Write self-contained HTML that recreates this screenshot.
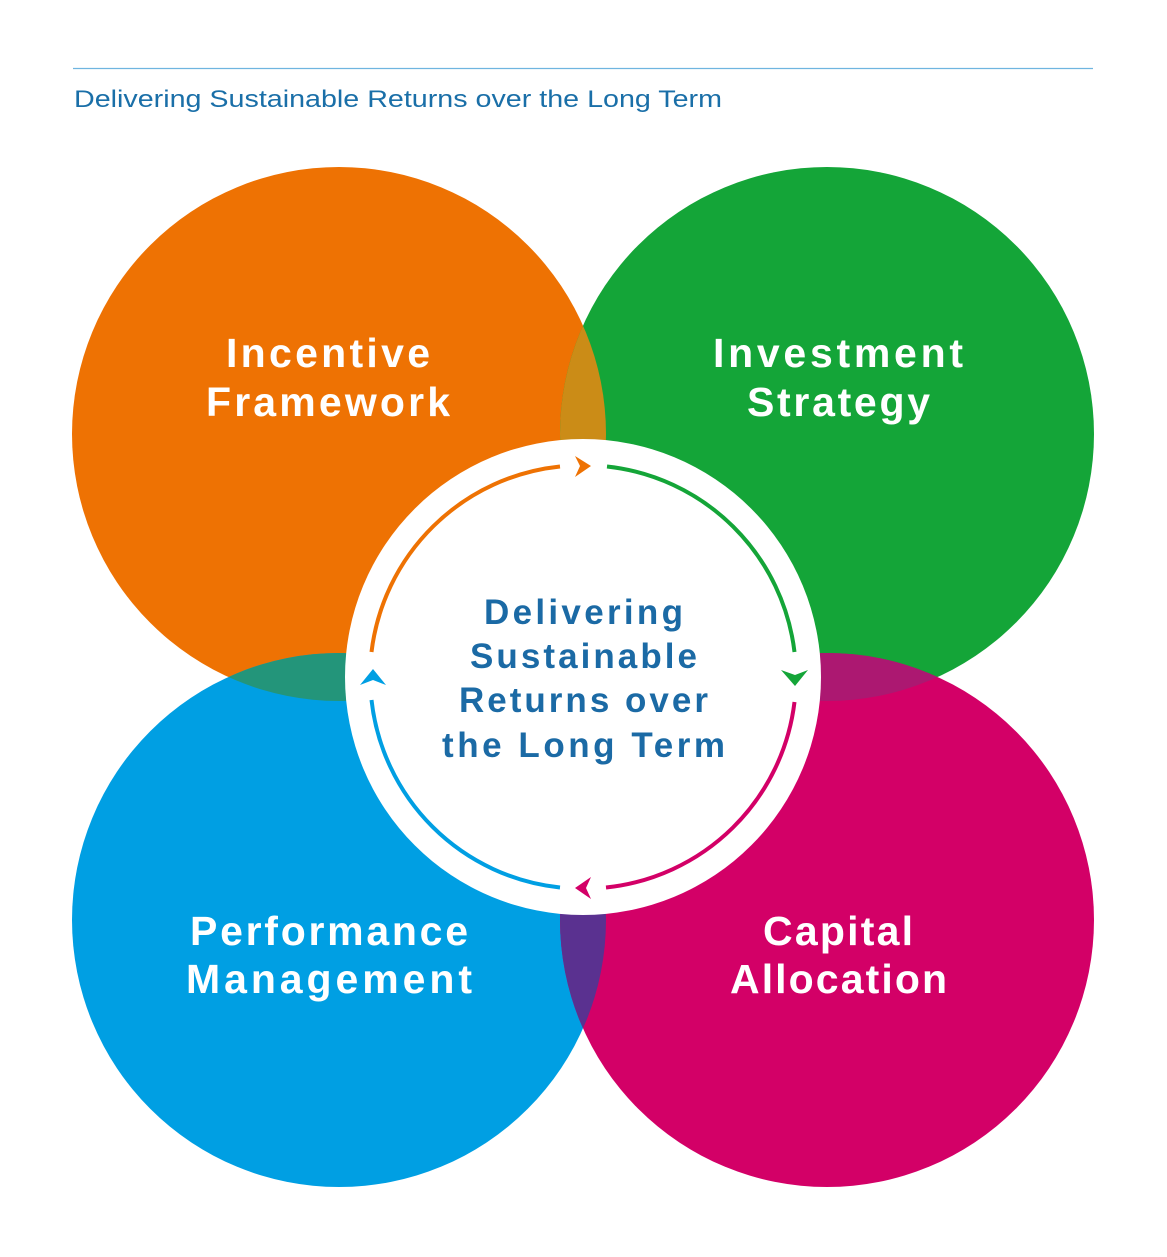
<!DOCTYPE html>
<html><head><meta charset="utf-8"><style>
html,body{margin:0;padding:0;background:#fff;}
svg{display:block;}
text{font-family:"Liberation Sans","DejaVu Sans",sans-serif;}
</style></head><body>
<svg width="1167" height="1257" viewBox="0 0 1167 1257">
<defs>
<clipPath id="cO"><circle cx="339" cy="434" r="267"/></clipPath>
<clipPath id="cG"><circle cx="827" cy="434" r="267"/></clipPath>
<clipPath id="cB"><circle cx="339" cy="920" r="267"/></clipPath>
<clipPath id="cP"><circle cx="827" cy="920" r="267"/></clipPath>
</defs>
<line x1="73" y1="68.5" x2="1093" y2="68.5" stroke="#6fb5e0" stroke-width="1.2"/>
<text x="74" y="107" font-size="24" fill="#1a6fa8" textLength="648" lengthAdjust="spacingAndGlyphs">Delivering Sustainable Returns over the Long Term</text>

<circle cx="339" cy="434" r="267" fill="#ee7203"/>
<circle cx="827" cy="434" r="267" fill="#14a538"/>
<circle cx="339" cy="920" r="267" fill="#009fe3"/>
<circle cx="827" cy="920" r="267" fill="#d30067"/>
<g clip-path="url(#cO)"><circle cx="827" cy="434" r="267" fill="#cb8c17"/></g>
<g clip-path="url(#cO)"><circle cx="339" cy="920" r="267" fill="#23957a"/></g>
<g clip-path="url(#cG)"><circle cx="827" cy="920" r="267" fill="#ac1871"/></g>
<g clip-path="url(#cB)"><circle cx="827" cy="920" r="267" fill="#5a3190"/></g>

<circle cx="583" cy="677" r="238" fill="#fff"/>
<g fill="none" stroke-width="4">
<path d="M371.5,652 A212,212 0 0 1 560,466.5" stroke="#ee7203"/>
<path d="M607,466.5 A212,212 0 0 1 794.5,652" stroke="#14a538"/>
<path d="M794.5,702 A212,212 0 0 1 606,887.5" stroke="#d30067"/>
<path d="M560,887.5 A212,212 0 0 1 371.5,700" stroke="#009fe3"/>
</g>
<path d="M591,466 L575,456 L580,466 L575,477 Z" fill="#ee7203"/>
<path d="M795,686 L781,670 L795,675 L808,670 Z" fill="#14a538"/>
<path d="M575,888 L591,877 L586,888 L591,899 Z" fill="#d30067"/>
<path d="M373,669 L360,685 L373,680 L386,685 Z" fill="#009fe3"/>

<g font-weight="bold" fill="#fff" font-size="41" lengthAdjust="spacingAndGlyphs">
<text x="226" y="367" textLength="204">Incentive</text>
<text x="206" y="416" textLength="244">Framework</text>
<text x="713" y="367" textLength="250">Investment</text>
<text x="747" y="416" textLength="183">Strategy</text>
<text x="190" y="945" textLength="278">Performance</text>
<text x="186" y="993" textLength="286">Management</text>
<text x="763" y="945" textLength="150">Capital</text>
<text x="730" y="993" textLength="217">Allocation</text>
</g>
<g font-weight="bold" fill="#1b6aa5" font-size="35" lengthAdjust="spacingAndGlyphs">
<text x="484" y="624" textLength="199">Delivering</text>
<text x="470" y="668" textLength="227">Sustainable</text>
<text x="459" y="712" textLength="249">Returns over</text>
<text x="442" y="757" textLength="283">the Long Term</text>
</g>
</svg>
</body></html>
